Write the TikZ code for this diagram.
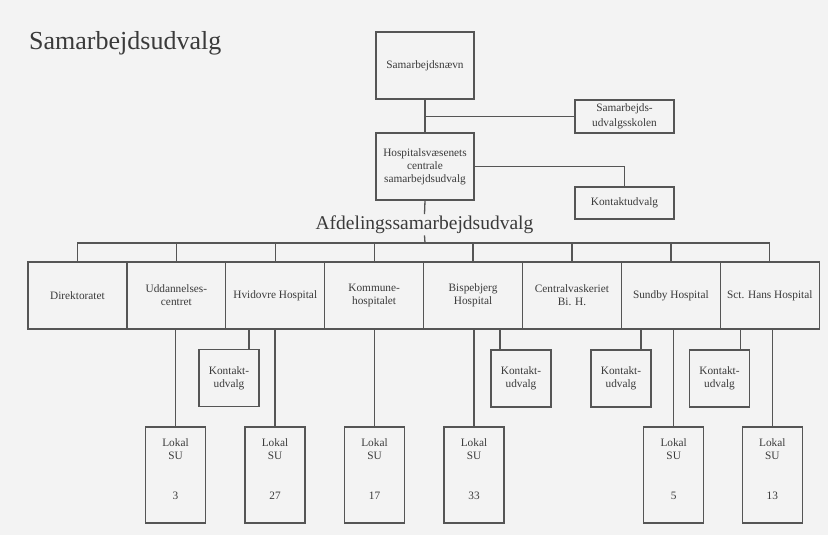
\documentclass[tikz,border=0pt]{standalone}
\usepackage{fontspec}
\setmainfont{Liberation Serif}
\definecolor{ln}{HTML}{555555}
\definecolor{tx}{HTML}{3A3A3A}
\definecolor{bg}{HTML}{F3F3F3}
\begin{document}
\begin{tikzpicture}[x=1pt,y=-1pt,
  box/.style={draw=ln, line width=1.3pt, inner sep=0pt, align=center, text=tx,
    font=\fontsize{11.3}{13}\selectfont},
  topbox/.style={box, minimum width=98pt, minimum height=67pt},
  sidebox/.style={box, minimum width=99pt, minimum height=33pt},
  rowbox/.style={box, minimum width=98.9pt, minimum height=67pt},
  kbox/.style={box, minimum width=60pt, minimum height=57pt},
  lbox/.style={box, minimum width=60pt, minimum height=96pt},
  ltext/.style={inner sep=0pt, align=center, text=tx, anchor=north,
    font=\fontsize{11.3}{13}\selectfont},
  conn/.style={draw=ln, line width=1.3pt},
  bigtitle/.style={inner sep=0pt, text=tx, font=\fontsize{26}{30}\selectfont},
  midtitle/.style={inner xsep=0pt, inner ysep=1.5pt, text=tx, font=\fontsize{19.5}{22}\selectfont}]
\fill[bg] (0,0) rectangle (828,535);
\useasboundingbox (0,0) rectangle (828,535);

% title
\node[bigtitle, anchor=base west] (titel) at (29,49.5) {Samarbejdsudvalg};

% top part
\node[topbox] (snaevn) at (425,65.5) {Samarbejdsnævn};
\node[sidebox, font=\fontsize{11.3}{15}\selectfont] (skolen) at (624.5,116.5) {Samarbejds-\\udvalgsskolen};
\node[topbox] (hcs) at (425,166.5) {Hospitalsvæsenets\\centrale\\samarbejdsudvalg};
\node[box, minimum width=99pt, minimum height=32pt] (kudv) at (624.5,203) {Kontaktudvalg};
\node[midtitle, anchor=base] (afd) at (424.5,229.5) {Afdelingssamarbejdsudvalg};

\draw[conn] (snaevn.south) -- (hcs.north);
\coordinate (j1) at (425,116.5);
\draw[conn] (j1) -- (skolen.west);
\draw[conn] (hcs.east) -| (kudv.north);
\draw[conn] (hcs.south) -- (afd.north);
\coordinate (bus) at (425,243);
\draw[conn] (afd.south) -- (bus);

% row of departments
\node[rowbox] (dir) at (77.45,295.5) {Direktoratet};
\node[rowbox] (udd) at (176.35,295.5) {Uddannelses-\\centret};
\node[rowbox] (hvi) at (275.25,295.5) {Hvidovre Hospital};
\node[rowbox] (kom) at (374.15,295.5) {Kommune-\\hospitalet};
\node[rowbox] (bis) at (473.05,295.5) {Bispebjerg\\Hospital};
\node[rowbox] (cen) at (571.95,295.5) {Centralvaskeriet\\Bi. H.};
\node[rowbox] (sun) at (670.85,295.5) {Sundby Hospital};
\node[rowbox] (sct) at (769.75,295.5) {Sct. Hans Hospital};

\foreach \b in {dir,udd,hvi,kom,bis,cen,sun,sct}
  \draw[conn] (bus) -| (\b.north);

% Kontaktudvalg boxes
\node[kbox] (k1) at (229,378) {Kontakt-\\udvalg};
\node[kbox] (k2) at (521,378.5) {Kontakt-\\udvalg};
\node[kbox] (k3) at (621,378.5) {Kontakt-\\udvalg};
\node[kbox] (k4) at (719.5,378.5) {Kontakt-\\udvalg};

\coordinate (k1t) at ([xshift=20pt]k1.north);
\coordinate (k2t) at ([xshift=-21pt]k2.north);
\coordinate (k3t) at ([xshift=20pt]k3.north);
\coordinate (k4t) at ([xshift=21pt]k4.north);
\draw[conn] (k1t) -- (k1t |- hvi.south);
\draw[conn] (k2t) -- (k2t |- bis.south);
\draw[conn] (k3t) -- (k3t |- sun.south);
\draw[conn] (k4t) -- (k4t |- sct.south);

% Lokal SU boxes
\node[lbox] (su3) at (175.5,475) {};
\node[lbox] (su27) at (275,475) {};
\node[lbox] (su17) at (374.5,475) {};
\node[lbox] (su33) at (474,475) {};
\node[lbox] (su5) at (673.7,475) {};
\node[lbox] (su13) at (772.3,475) {};

\node[ltext] (su3t) at ([yshift=-12pt]su3.north) {Lokal\\SU\\[27pt]3};
\node[ltext] (su27t) at ([yshift=-12pt]su27.north) {Lokal\\SU\\[27pt]27};
\node[ltext] (su17t) at ([yshift=-12pt]su17.north) {Lokal\\SU\\[27pt]17};
\node[ltext] (su33t) at ([yshift=-12pt]su33.north) {Lokal\\SU\\[27pt]33};
\node[ltext] (su5t) at ([yshift=-12pt]su5.north) {Lokal\\SU\\[27pt]5};
\node[ltext] (su13t) at ([yshift=-12pt]su13.north) {Lokal\\SU\\[27pt]13};

\draw[conn] (su3.north) -- (su3.north |- udd.south);
\draw[conn] (su27.north) -- (su27.north |- hvi.south);
\draw[conn] (su17.north) -- (su17.north |- kom.south);
\draw[conn] (su33.north) -- (su33.north |- bis.south);
\draw[conn] (su5.north) -- (su5.north |- sun.south);
\draw[conn] (su13.north) -- (su13.north |- sct.south);
\end{tikzpicture}
\end{document}
